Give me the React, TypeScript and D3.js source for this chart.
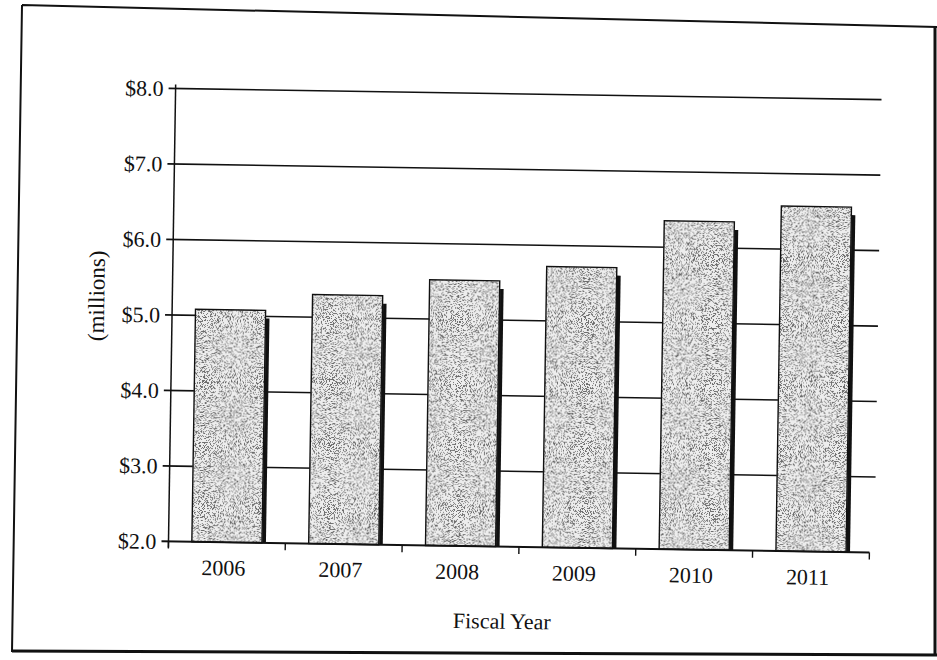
import React, { useEffect, useRef } from "react";
import * as d3 from "d3";

// Fiscal years on the x axis
const years = ["2006", "2007", "2008", "2009", "2010", "2011"];

// Amount per year, in millions of dollars
const amounts = [5.08, 5.3, 5.52, 5.72, 6.35, 6.57];

// Tick values and labels for the y axis
const yTicks = [2, 3, 4, 5, 6, 7, 8];
const yTickLabels = ["$2.0", "$3.0", "$4.0", "$5.0", "$6.0", "$7.0", "$8.0"];

const width = 937;
const height = 660;

// Plot area (left, right, top, bottom)
const plot = { left: 172, right: 873, top: 94, bottom: 547 };

const serif = "'Liberation Serif', 'Times New Roman', serif";

const drawChart = (node: SVGSVGElement) => {
    const svg = d3.select(node);
    svg.selectAll("*").remove();

    // Stipple texture used to fill the bars
    const defs = svg.append("defs");
    const filter = defs.append("filter")
        .attr("id", "stipple")
        .attr("x", 0).attr("y", 0).attr("width", 1).attr("height", 1);
    filter.append("feTurbulence")
        .attr("type", "fractalNoise")
        .attr("baseFrequency", 1.2)
        .attr("numOctaves", 1)
        .attr("seed", 7)
        .attr("result", "noise");
    filter.append("feColorMatrix")
        .attr("in", "noise")
        .attr("type", "matrix")
        .attr("values", "0 0 0 0 0.15  0 0 0 0 0.15  0 0 0 0 0.15  1 0 0 0 0")
        .attr("result", "alpha");
    const transfer = filter.append("feComponentTransfer").attr("in", "alpha").attr("result", "dots");
    transfer.append("feFuncA").attr("type", "discrete").attr("tableValues", "0 0 0 0 0 0 0 0 0 0 0 1 1 1 1 1 1 1 1 1");
    filter.append("feComposite")
        .attr("in", "dots").attr("in2", "SourceGraphic")
        .attr("operator", "in")
        .attr("result", "clipped");
    const merge = filter.append("feMerge");
    merge.append("feMergeNode").attr("in", "SourceGraphic");
    merge.append("feMergeNode").attr("in", "clipped");

    svg.append("rect").attr("width", width).attr("height", height).attr("fill", "#fff");

    // Outer frame of the scanned page
    svg.append("path")
        .attr("d", "M22,5 L937,27 M22,5 L12,652")
        .attr("fill", "none")
        .attr("stroke", "#111")
        .attr("stroke-width", 2);
    svg.append("path")
        .attr("d", "M12,651 L937,655 M935,27 L935,656")
        .attr("fill", "none")
        .attr("stroke", "#111")
        .attr("stroke-width", 3);

    // Scales
    const x = d3.scaleBand()
        .domain(years)
        .range([plot.left, plot.right])
        .paddingInner(0.4)
        .paddingOuter(0.2);
    const y = d3.scaleLinear()
        .domain([2, 8])
        .range([plot.bottom, plot.top]);

    // The scan is slightly tilted
    const g = svg.append("g")
        .attr("transform", `rotate(0.9, ${(plot.left + plot.right) / 2}, ${(plot.top + plot.bottom) / 2})`);

    // Horizontal grid lines with their ticks
    g.selectAll(".grid")
        .data(yTicks.filter(d => d !== 2))
        .enter().append("line")
        .attr("x1", plot.left - 7)
        .attr("x2", plot.right + 5)
        .attr("y1", d => y(d))
        .attr("y2", d => y(d))
        .attr("stroke", "#111")
        .attr("stroke-width", 1.6);

    // Y axis tick labels
    g.selectAll(".ylabel")
        .data(yTicks)
        .enter().append("text")
        .attr("x", plot.left - 12)
        .attr("y", d => y(d))
        .attr("dy", "0.35em")
        .attr("text-anchor", "end")
        .attr("font-family", serif)
        .attr("font-size", 22)
        .attr("fill", "#111")
        .text((d, i) => yTickLabels[i]);

    // Bars: drop shadow, stippled fill, outline
    const bars = g.selectAll(".bar")
        .data(years.map((year, i) => ({ year, value: amounts[i] })))
        .enter().append("g");

    bars.append("rect")
        .attr("x", d => (x(d.year) as number) + x.bandwidth())
        .attr("y", d => y(d.value) + 8)
        .attr("width", 4)
        .attr("height", d => y(2) - y(d.value) - 8)
        .attr("fill", "#111");

    bars.append("rect")
        .attr("x", d => x(d.year) as number)
        .attr("y", d => y(d.value))
        .attr("width", x.bandwidth())
        .attr("height", d => y(2) - y(d.value))
        .attr("fill", "#ededed")
        .attr("filter", "url(#stipple)");

    bars.append("rect")
        .attr("x", d => x(d.year) as number)
        .attr("y", d => y(d.value))
        .attr("width", x.bandwidth())
        .attr("height", d => y(2) - y(d.value))
        .attr("fill", "none")
        .attr("stroke", "#111")
        .attr("stroke-width", 1.4);

    // Axes lines
    g.append("line")
        .attr("x1", plot.left).attr("x2", plot.left)
        .attr("y1", plot.top - 4).attr("y2", plot.bottom + 6)
        .attr("stroke", "#111").attr("stroke-width", 1.5);
    g.append("line")
        .attr("x1", plot.left - 7).attr("x2", plot.right)
        .attr("y1", y(2)).attr("y2", y(2))
        .attr("stroke", "#111").attr("stroke-width", 2);

    // X axis ticks between categories
    const step = x.step();
    const x0 = (x(years[0]) as number) - step * x.paddingInner() / 2;
    g.selectAll(".xtick")
        .data(d3.range(years.length + 1))
        .enter().append("line")
        .attr("x1", i => x0 + i * step)
        .attr("x2", i => x0 + i * step)
        .attr("y1", y(2))
        .attr("y2", y(2) + 7)
        .attr("stroke", "#111")
        .attr("stroke-width", 1.4);

    // X axis labels
    g.selectAll(".xlabel")
        .data(years)
        .enter().append("text")
        .attr("x", d => (x(d) as number) + x.bandwidth() / 2 - 3)
        .attr("y", plot.bottom + 33)
        .attr("text-anchor", "middle")
        .attr("font-family", serif)
        .attr("font-size", 22)
        .attr("fill", "#111")
        .text(d => d);

    // Axis titles
    g.append("text")
        .attr("x", (plot.left + plot.right) / 2 - 16)
        .attr("y", 629)
        .attr("text-anchor", "middle")
        .attr("font-family", serif)
        .attr("font-size", 22)
        .attr("fill", "#111")
        .text("Fiscal Year");

    g.append("text")
        .attr("transform", `translate(104, ${(plot.top + plot.bottom) / 2 - 18}) rotate(-90)`)
        .attr("text-anchor", "middle")
        .attr("font-family", serif)
        .attr("font-size", 23)
        .attr("fill", "#111")
        .text("(millions)");
};

export default function App() {
    const ref = useRef<SVGSVGElement>(null);

    useEffect(() => {
        if (ref.current) drawChart(ref.current);
    }, []);

    return (
        <svg
            ref={ref}
            width={width}
            height={height}
            style={{ position: "absolute", left: 0, top: 0 }}
        />
    );
}
